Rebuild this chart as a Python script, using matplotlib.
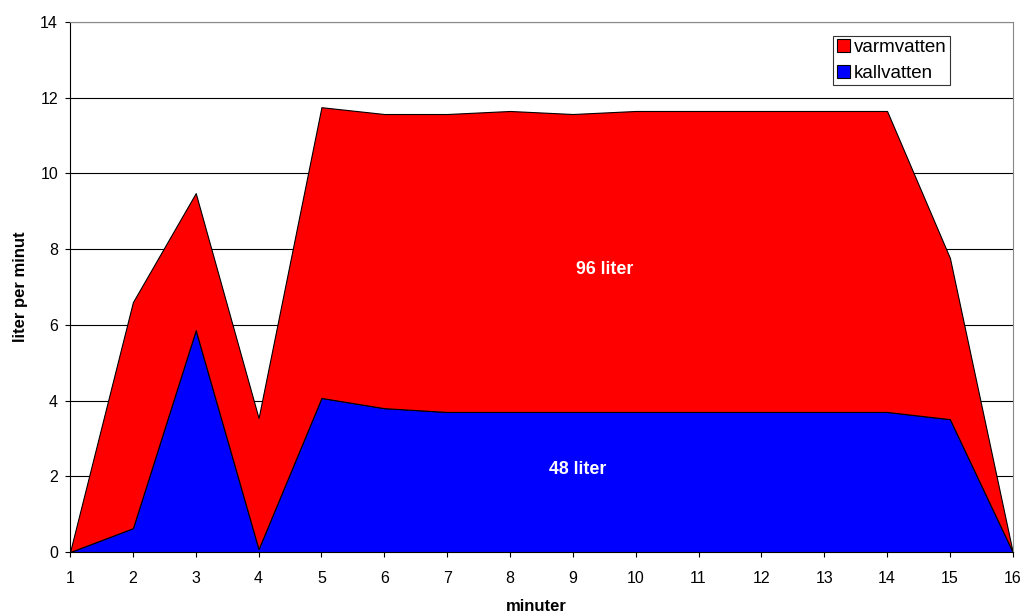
import matplotlib
matplotlib.use('Agg')
from matplotlib import pyplot as plt
import numpy as np

minuter = list(range(1, 17))
kallvatten = [0, 0.63, 5.86, 0.08, 4.07, 3.8, 3.7, 3.7, 3.7, 3.7, 3.7, 3.7, 3.7, 3.7, 3.51, 0]
totalt = [0, 6.6, 9.48, 3.54, 11.75, 11.57, 11.57, 11.65, 11.57, 11.65, 11.65, 11.65, 11.65, 11.65, 7.77, 0]
varmvatten = list(np.array(totalt) - np.array(kallvatten))

plt.rcParams['font.family'] = ['Liberation Sans', 'DejaVu Sans']

fig = plt.figure(figsize=(10.24, 6.15), dpi=100)
ax = fig.add_axes([0.0684, 0.1024, 0.9206, 0.8618])

ax.set_axisbelow(True)
ax.grid(axis='y', color='black', linewidth=0.8)

polys = ax.stackplot(minuter, kallvatten, varmvatten,
                     colors=['#0000ff', '#ff0000'],
                     labels=['kallvatten', 'varmvatten'],
                     edgecolor='black', linewidth=0.8)

ax.set_xlim(1, 16)
ax.set_ylim(0, 14)
ax.set_xticks(minuter)
ax.set_yticks(range(0, 15, 2))
ax.tick_params(labelsize=11.5, length=3.6, width=0.8, color='black')
ax.tick_params(axis='x', pad=10)
ax.tick_params(axis='y', pad=5)

for s in ['top', 'right']:
    ax.spines[s].set_color('#888888')
for s in ['left', 'bottom']:
    ax.spines[s].set_color('black')

ax.set_xlabel('minuter', fontsize=12, fontweight='bold')
ax.set_ylabel('liter per minut', fontsize=12, fontweight='bold')
ax.xaxis.set_label_coords(0.5 - 0.005, -0.102)
ax.yaxis.set_label_coords(-0.053, 0.5)
ax.xaxis.label.set_va('center')
ax.yaxis.label.set_va('center')

ax.text(9.51, 7.47, '96 liter', color='white', fontsize=12.8, fontweight='bold',
        ha='center', va='center')
ax.text(9.08, 2.19, '48 liter', color='white', fontsize=12.8, fontweight='bold',
        ha='center', va='center')

handles, labels = ax.get_legend_handles_labels()
leg = ax.legend(handles[::-1], labels[::-1], loc='upper right',
                bbox_to_anchor=(0.933, 0.974), fontsize=13.5, frameon=True,
                fancybox=False, edgecolor='black', handlelength=0.7,
                handleheight=0.7, handletextpad=0.2, borderpad=0.18,
                labelspacing=0.45, borderaxespad=0)
leg.get_frame().set_linewidth(0.8)

fig.savefig('out.png', dpi=100)
